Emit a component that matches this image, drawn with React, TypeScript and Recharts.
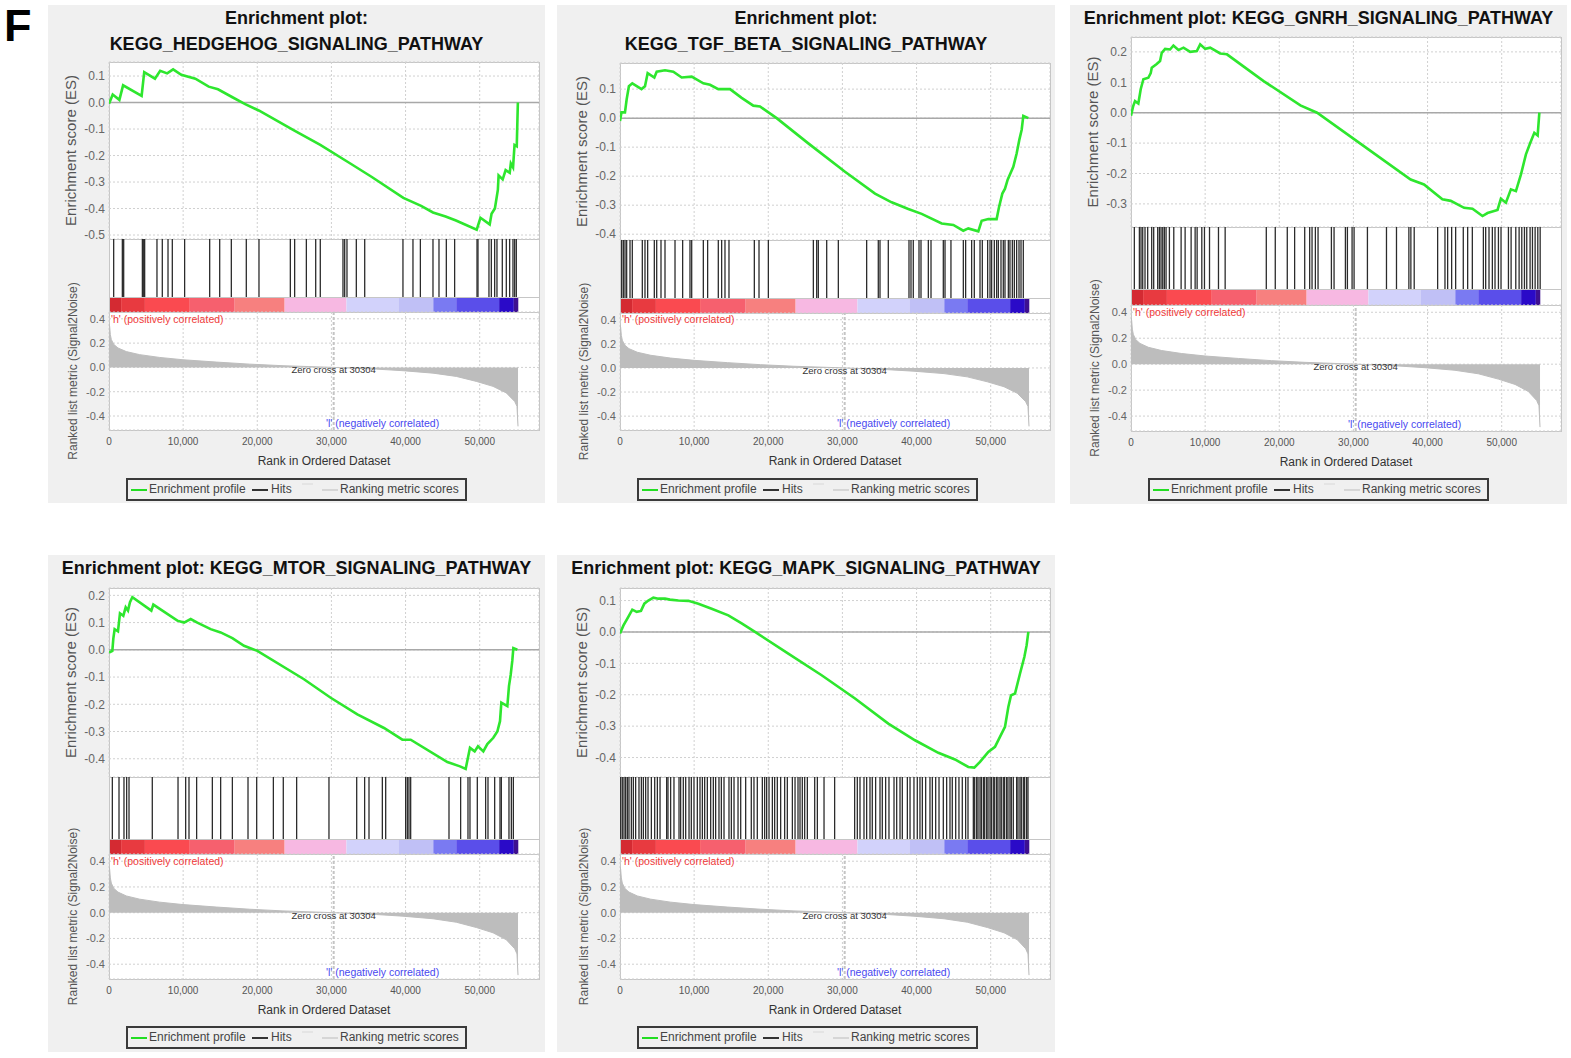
import React from "react";
import {
  LineChart,
  Line,
  AreaChart,
  Area,
  XAxis,
  YAxis,
  CartesianGrid,
  ReferenceLine,
  ReferenceArea,
  ReferenceDot
} from "recharts";

// shared x axis (rank in ordered dataset)
const X_DOMAIN: [number, number] = [0, 58000];
const X_TICKS = [0, 10000, 20000, 30000, 40000, 50000];
const METRIC_DOMAIN: [number, number] = [-0.515, 0.456];
const METRIC_TICKS = [-0.4, -0.2, 0, 0.2, 0.4];
const ZERO_CROSS = 30304;

// ranked list metric (Signal2Noise), same for every panel
const rankedMetric: [number, number][] = [
  [0, 0.36], [90, 0.337], [180, 0.27], [310, 0.23], [630, 0.19], [1210, 0.16],
  [2340, 0.13], [4140, 0.105], [6830, 0.082], [9980, 0.063], [14480, 0.044],
  [18970, 0.027], [23470, 0.014], [30304, 0], [36060, -0.014], [39650, -0.027],
  [43700, -0.047], [46850, -0.074], [49550, -0.115], [51800, -0.156],
  [53590, -0.21], [54720, -0.28], [55030, -0.32], [55170, -0.485]
];

// heat bar under the hits
const colorBands: [number, number, string][] = [
  [0, 1500, "#d42a32"], [1500, 4720, "#e83a40"], [4720, 10790, "#fa4a50"],
  [10790, 16860, "#f6606e"], [16860, 23610, "#f7807f"], [23610, 31970, "#f7b8e2"],
  [31970, 38990, "#d2d2fb"], [38990, 43710, "#c0c0f6"], [43710, 46810, "#7a7af2"],
  [46810, 52610, "#5a4eea"], [52610, 54600, "#2a0ac8"], [54600, 55200, "#3e1090"]
];

const hedgehogES: [number, number][] = [
  [0, -0.005], [500, 0.03], [1400, 0.01], [1900, 0.065], [4400, 0.025], [4750, 0.115],
  [6200, 0.09], [6900, 0.12], [7850, 0.11], [8650, 0.125], [9750, 0.105], [11650, 0.09],
  [13450, 0.06], [14700, 0.05], [16650, 0.02], [18300, -0.005], [20200, -0.03],
  [24950, -0.105], [28500, -0.16], [32550, -0.23], [35400, -0.28], [39700, -0.36],
  [42100, -0.39], [43700, -0.415], [45400, -0.43], [46800, -0.445], [49600, -0.48],
  [50100, -0.435], [51350, -0.46], [51600, -0.42], [52050, -0.4], [52450, -0.33],
  [52550, -0.275], [53100, -0.29], [53500, -0.255], [54050, -0.265], [54200, -0.23],
  [54500, -0.245], [54700, -0.16], [55000, -0.165], [55150, 0.0]
];
const hedgehogHits = [
  630, 1800, 1980, 4500, 4680, 4810, 6470, 7190, 7960, 8540, 10200, 13580, 14930,
  16500, 18520, 20230, 24460, 25040, 26620, 27880, 28500, 31560, 31790, 32100, 33360,
  34490, 39650, 41000, 42000, 43700, 44510, 45500, 46620, 49640, 49770, 51250, 51570,
  52020, 52330, 53050, 53590, 54040, 54490, 54720, 54940
];

const tgfES: [number, number][] = [
  [0, -0.01], [200, 0.02], [670, 0.02], [900, 0.065], [1200, 0.11], [1660, 0.12],
  [2900, 0.1], [3370, 0.11], [3730, 0.155], [4630, 0.14], [4950, 0.16], [6070, 0.165],
  [7190, 0.16], [8320, 0.14], [9670, 0.143], [11240, 0.12], [12140, 0.115],
  [13260, 0.1], [14840, 0.1], [16410, 0.07], [17980, 0.043], [18880, 0.04],
  [21130, 0.0], [25400, -0.087], [30350, -0.185], [34400, -0.26], [36640, -0.29],
  [38890, -0.313], [40690, -0.33], [43390, -0.363], [44960, -0.368], [46300, -0.388],
  [46980, -0.38], [48330, -0.39], [48780, -0.354], [49680, -0.348], [50800, -0.348],
  [51120, -0.307], [51570, -0.26], [51930, -0.243], [52290, -0.212], [53050, -0.168],
  [53500, -0.122], [53860, -0.075], [54180, -0.04], [54400, 0.008], [55080, 0.0]
];
const tgfHits = [
  225, 450, 675, 900, 1350, 1660, 3010, 3370, 3730, 4630, 4950, 5530, 6070, 7420,
  8450, 9440, 9670, 11240, 11820, 13260, 13710, 14160, 14700, 18120, 18750, 20010,
  26080, 26530, 26750, 27880, 29450, 33270, 34840, 35070, 36190, 38980, 39250, 39560,
  40330, 40600, 41590, 41950, 43610, 43840, 44640, 46310, 46620, 47430, 47790, 48560,
  48870, 49590, 49910, 50130, 50490, 50800, 51030, 51390, 51700, 51930, 52380, 52600,
  52920, 53190, 53500, 53820, 54090, 54400
];

const gnrhES: [number, number][] = [
  [0, -0.01], [300, 0.022], [540, 0.038], [990, 0.03], [1310, 0.077], [1670, 0.11],
  [2340, 0.115], [2660, 0.13], [2800, 0.148], [3470, 0.16], [3920, 0.17], [4150, 0.197],
  [4600, 0.21], [5270, 0.208], [5720, 0.221], [6400, 0.206], [7080, 0.214],
  [7980, 0.2], [8880, 0.203], [9330, 0.225], [10000, 0.21], [10680, 0.214],
  [12030, 0.195], [12940, 0.192], [17890, 0.104], [22850, 0.024], [25100, 0.0],
  [31410, -0.11], [37720, -0.22], [39520, -0.236], [42000, -0.285], [43130, -0.29],
  [44930, -0.313], [46060, -0.316], [47410, -0.34], [48090, -0.33], [49440, -0.32],
  [49890, -0.283], [50570, -0.296], [51240, -0.252], [51920, -0.258], [52600, -0.203],
  [53270, -0.137], [53860, -0.099], [54400, -0.066], [54850, -0.075], [55080, 0.0]
];
const gnrhHits = [
  450, 1130, 1350, 1580, 1890, 2250, 2790, 3060, 3600, 3830, 4050, 4280, 4500, 4730,
  5180, 5770, 6760, 7300, 8110, 8650, 8920, 9550, 9910, 10590, 11800, 12700, 18250,
  19460, 21080, 22070, 23430, 24100, 24420, 24870, 25230, 27030, 27390, 28920, 29190,
  29820, 30090, 31890, 34460, 35810, 37480, 37750, 38200, 41360, 42350, 42710, 43250,
  43790, 44820, 45410, 46040, 47530, 47840, 48290, 48740, 49100, 49560, 49910, 50910,
  51270, 51900, 52350, 52710, 53070, 53380, 53830, 54150, 54510, 54870, 55190
];

const mtorES: [number, number][] = [
  [0, -0.01], [450, -0.004], [580, 0.04], [760, 0.076], [1210, 0.068], [1480, 0.134],
  [1930, 0.125], [2250, 0.156], [2560, 0.144], [2830, 0.175], [3150, 0.193],
  [5710, 0.144], [5980, 0.166], [9220, 0.107], [10120, 0.1], [11020, 0.113],
  [11910, 0.1], [13710, 0.076], [15060, 0.064], [16640, 0.043], [18210, 0.015],
  [20010, -0.004], [26300, -0.108], [29900, -0.176], [33500, -0.237], [37090, -0.287],
  [39570, -0.33], [40690, -0.33], [45640, -0.412], [47340, -0.428], [48110, -0.437],
  [48690, -0.36], [49320, -0.373], [49770, -0.354], [50490, -0.373], [51030, -0.346],
  [51840, -0.323], [52380, -0.3], [52740, -0.262], [52920, -0.194], [53730, -0.207],
  [53950, -0.133], [54180, -0.092], [54400, -0.04], [54540, 0.006], [55080, 0.0]
];
const mtorHits = [
  450, 1350, 2020, 2380, 2700, 5840, 9310, 10340, 10790, 11820, 13940, 15060, 16640,
  18750, 19920, 22170, 23510, 25310, 29670, 33410, 34480, 35070, 36870, 37320, 40010,
  40240, 40460, 40690, 45860, 47430, 48420, 48690, 49680, 50800, 51120, 52020, 52740,
  52920, 53950, 54270, 54540
];

const mapkES: [number, number][] = [
  [0, -0.005], [450, 0.02], [1120, 0.048], [1660, 0.071], [2250, 0.064], [2830, 0.067],
  [3280, 0.09], [3820, 0.1], [4500, 0.109], [5170, 0.106], [6070, 0.106], [6740, 0.103],
  [7870, 0.1], [9220, 0.099], [10570, 0.09], [12360, 0.074], [14610, 0.053],
  [16410, 0.027], [18210, 0.0], [22700, -0.069], [27200, -0.138], [31700, -0.212],
  [36190, -0.292], [39790, -0.345], [42940, -0.385], [45180, -0.406], [46980, -0.43],
  [47790, -0.432], [48560, -0.414], [49680, -0.382], [50580, -0.366], [51250, -0.334],
  [51930, -0.302], [52380, -0.239], [52740, -0.202], [53280, -0.196], [53950, -0.133],
  [54540, -0.08], [54850, -0.042], [55080, 0.0]
];
const mapkHits = [
  90, 310, 540, 760, 990, 1210, 1530, 1800, 2110, 2560, 2880, 3150, 3460, 3780, 4230,
  4680, 5040, 5400, 6290, 6470, 6830, 7280, 7960, 8180, 8540, 8860, 9310, 9620, 9980,
  10430, 10790, 11110, 11420, 11780, 12230, 12590, 12900, 13350, 13670, 14030, 14700,
  15020, 15380, 15920, 16280, 16950, 17710, 18070, 18520, 19200, 19510, 19780, 20100,
  20550, 20860, 21220, 21670, 22210, 22570, 23250, 23610, 24010, 24280, 24590, 24910,
  25270, 26260, 26620, 27520, 28950, 31650, 32010, 32370, 32910, 33270, 33720, 34030,
  34480, 35070, 35380, 35830, 36280, 36960, 37320, 37770, 38080, 38760, 39120, 39650,
  40100, 40460, 40780, 41230, 41810, 42130, 42580, 43030, 43610, 44060, 44510, 44820,
  45280, 45720, 46170, 46620, 46940, 47660, 47840, 48110, 48290, 48560, 48740, 49010,
  49190, 49460, 49640, 49910, 50090, 50350, 50540, 50800, 50980, 51250, 51430, 51700,
  51880, 52150, 52330, 52600, 52780, 53050, 53500, 53680, 53950, 54130, 54400, 54580,
  54850, 55030
];

const FONT = "'Liberation Sans', Arial, sans-serif";
const PLOT_W = 430;
const AXIS_W = 60;
const ES_PAD = 8;
const NO_MARGIN = { top: 0, right: 0, bottom: 0, left: 0 };

const vLabel = (text: string, fontSize: number, dx: number) => (props: any) => {
  const vb = props.viewBox || { x: 0, y: 0, height: 0 };
  const x = vb.x + dx;
  const y = vb.y + vb.height / 2;
  return (
    <text x={x} y={y} transform={`rotate(-90 ${x} ${y})`} textAnchor="middle"
      dominantBaseline="central" fontSize={fontSize} fill="#555" fontFamily={FONT}>
      {text}
    </text>
  );
};

const rankLabel = (props: any) => {
  const vb = props.viewBox || { x: 0, y: 0, width: 0 };
  return (
    <text x={vb.x + vb.width / 2} y={vb.y + 31} textAnchor="middle" dominantBaseline="central"
      fontSize={12} fill="#333" fontFamily={FONT}>
      Rank in Ordered Dataset
    </text>
  );
};

type PanelProps = {
  bg: { x: number; y: number; w: number; h: number };
  title: string[];
  plotLeft: number;
  esTop: number;
  esBottom: number;
  hitsBottom: number;
  barBottom: number;
  metricBottom: number;
  legendTop: number;
  esDomain: [number, number];
  esTicks: number[];
  es: [number, number][];
  hits: number[];
};

const frame = (left: number, top: number, h: number): React.CSSProperties => ({
  position: "absolute", left, top, width: PLOT_W + 1, height: h + 1,
  background: "#fff", border: "1px solid #c6c6c6", boxSizing: "border-box"
});

function Panel(p: PanelProps) {
  const esData = p.es.map(([rank, es]) => ({ rank, es }));
  const hitData = p.hits.map((rank) => ({ rank, v: 0.5 }));
  const metricData = rankedMetric.map(([rank, value]) => ({ rank, value }));
  const esH = p.esBottom - p.esTop;
  const hitsH = p.hitsBottom - p.esBottom;
  const barH = p.barBottom - p.hitsBottom;
  const metricH = p.metricBottom - p.barBottom;
  const metricPad = p.barBottom - p.esBottom;
  const tickFmt = (v: number) => v.toFixed(1);

  return (
    <>
      <div style={{ position: "absolute", left: p.bg.x, top: p.bg.y, width: p.bg.w, height: p.bg.h, background: "#f0f0f0" }} />
      {p.title.map((t, i) => (
        <div key={i} style={{
          position: "absolute", left: p.bg.x, top: p.bg.y + i * 26, width: p.bg.w, height: 26,
          lineHeight: "26px", textAlign: "center", fontWeight: "bold", fontSize: 18, color: "#111",
          whiteSpace: "nowrap"
        }}>{t}</div>
      ))}

      <div style={frame(p.plotLeft, p.esTop, esH)} />
      <div style={frame(p.plotLeft, p.esBottom, hitsH)} />
      <div style={frame(p.plotLeft, p.hitsBottom, barH)} />
      <div style={frame(p.plotLeft, p.barBottom, metricH)} />

      {/* running enrichment score */}
      <div style={{ position: "absolute", left: p.plotLeft - AXIS_W, top: p.esTop - ES_PAD }}>
        <LineChart width={PLOT_W + AXIS_W} height={esH + 2 * ES_PAD} data={esData}
          margin={{ top: ES_PAD, right: 0, bottom: ES_PAD, left: 0 }}>
          <CartesianGrid stroke="#d0d0d0" strokeDasharray="2 2" />
          <XAxis type="number" dataKey="rank" domain={X_DOMAIN} ticks={X_TICKS} hide allowDataOverflow />
          <YAxis type="number" domain={p.esDomain} ticks={p.esTicks} width={AXIS_W} allowDataOverflow interval={0}
            tickFormatter={tickFmt} tick={{ fontSize: 12, fill: "#666" }} tickLine={false} axisLine={false}
            tickSize={2} tickMargin={2} label={vLabel("Enrichment score (ES)", 15, 21)} />
          <ReferenceLine y={0} stroke="#a8a8a8" strokeWidth={1.5} />
          <Line type="linear" dataKey="es" stroke="#2ee62e" strokeWidth={2.6} dot={false} isAnimationActive={false} />
        </LineChart>
      </div>

      {/* hits */}
      <div style={{ position: "absolute", left: p.plotLeft, top: p.esBottom }}>
        <LineChart width={PLOT_W} height={hitsH} data={hitData} margin={NO_MARGIN}>
          <XAxis type="number" dataKey="rank" domain={X_DOMAIN} hide allowDataOverflow />
          <YAxis type="number" domain={[0, 1]} hide />
          <Line dataKey="v" stroke="none" dot={false} activeDot={false} isAnimationActive={false} />
          {p.hits.map((h, i) => (
            <ReferenceLine key={i} x={h} stroke="#2c2c2c" strokeWidth={1.3} />
          ))}
        </LineChart>
      </div>

      {/* color bar */}
      <div style={{ position: "absolute", left: p.plotLeft + 1, top: p.hitsBottom + 1 }}>
        <LineChart width={PLOT_W - 1} height={barH - 1} data={hitData} margin={NO_MARGIN}>
          <XAxis type="number" dataKey="rank" domain={X_DOMAIN} hide allowDataOverflow />
          <YAxis type="number" domain={[0, 1]} hide />
          <Line dataKey="v" stroke="none" dot={false} activeDot={false} isAnimationActive={false} />
          {colorBands.map(([x1, x2, c], i) => (
            <ReferenceArea key={i} x1={x1} x2={x2} y1={0} y2={1} fill={c} fillOpacity={1} stroke="none" />
          ))}
        </LineChart>
      </div>

      {/* ranked list metric */}
      <div style={{ position: "absolute", left: p.plotLeft - AXIS_W, top: p.esBottom }}>
        <AreaChart width={PLOT_W + AXIS_W} height={metricPad + metricH + 45} data={metricData}
          margin={{ top: metricPad, right: 0, bottom: 0, left: 0 }}>
          <CartesianGrid stroke="#d0d0d0" strokeDasharray="2 2" />
          <XAxis type="number" dataKey="rank" domain={X_DOMAIN} ticks={X_TICKS} height={45} allowDataOverflow interval={0}
            tickFormatter={(v: number) => v.toLocaleString("en-US")} tick={{ fontSize: 10, fill: "#555" }}
            tickLine={false} axisLine={false} tickSize={2} tickMargin={6} label={rankLabel} />
          <YAxis type="number" domain={METRIC_DOMAIN} ticks={METRIC_TICKS} width={AXIS_W} allowDataOverflow interval={0}
            tickFormatter={tickFmt} tick={{ fontSize: 11, fill: "#666" }} tickLine={false} axisLine={false}
            tickSize={2} tickMargin={2} label={vLabel("Ranked list metric (Signal2Noise)", 12, 24)} />
          <ReferenceLine x={ZERO_CROSS} stroke="#c4c4c4" strokeDasharray="3 2" strokeWidth={2} />
          <Area type="linear" dataKey="value" baseValue={0} fill="#bdbdbd" fillOpacity={1} stroke="#bdbdbd"
            strokeWidth={1} isAnimationActive={false} />
          <ReferenceDot x={0} y={0.4} r={0} fill="none" stroke="none"
            label={{ value: "'h' (positively correlated)", position: "right", offset: 2, fill: "#f03a3a", fontSize: 10.5 }} />
          <ReferenceDot x={ZERO_CROSS} y={-0.02} r={0} fill="none" stroke="none"
            label={{ value: "Zero cross at 30304", position: "center", fill: "#333", fontSize: 9.5 }} />
          <ReferenceDot x={36900} y={-0.46} r={0} fill="none" stroke="none"
            label={{ value: "'l' (negatively correlated)", position: "center", fill: "#4848f0", fontSize: 10.5 }} />
        </AreaChart>
      </div>

      {/* legend */}
      <div style={{
        position: "absolute", left: p.plotLeft + 17, top: p.legendTop, width: 341, height: 23,
        border: "2px solid #3a3a3a", boxSizing: "border-box", fontSize: 12, color: "#444"
      }}>
        <div style={{ position: "absolute", left: 3, top: 9, width: 16, height: 2, background: "#22dd22" }} />
        <div style={{ position: "absolute", left: 21, top: 2, lineHeight: "15px" }}>Enrichment profile</div>
        <div style={{ position: "absolute", left: 124, top: 9, width: 16, height: 1.5, background: "#333" }} />
        <div style={{ position: "absolute", left: 143, top: 2, lineHeight: "15px" }}>Hits</div>
        <div style={{ position: "absolute", left: 174, top: 3, width: 11, height: 2, background: "#e4e4e4" }} />
        <div style={{ position: "absolute", left: 194, top: 9, width: 16, height: 1.5, background: "#d6d6d6" }} />
        <div style={{ position: "absolute", left: 212, top: 2, lineHeight: "15px" }}>Ranking metric scores</div>
      </div>
    </>
  );
}

export default function App() {
  return (
    <div style={{ position: "absolute", left: 0, top: 0, width: 1571, height: 1058, background: "#fff", fontFamily: FONT, overflow: "hidden" }}>
      <div style={{ position: "absolute", left: 4, top: 0, fontSize: 45, fontWeight: "bold", color: "#000" }}>F</div>

      <Panel bg={{ x: 48, y: 5, w: 497, h: 498 }} title={["Enrichment plot:", "KEGG_HEDGEHOG_SIGNALING_PATHWAY"]}
        plotLeft={109} esTop={62} esBottom={239} hitsBottom={297} barBottom={312} metricBottom={430} legendTop={478}
        esDomain={[-0.515, 0.153]} esTicks={[-0.5, -0.4, -0.3, -0.2, -0.1, 0, 0.1]} es={hedgehogES} hits={hedgehogHits} />

      <Panel bg={{ x: 557, y: 5, w: 498, h: 498 }} title={["Enrichment plot:", "KEGG_TGF_BETA_SIGNALING_PATHWAY"]}
        plotLeft={620} esTop={63} esBottom={240} hitsBottom={298} barBottom={313} metricBottom={430} legendTop={478}
        esDomain={[-0.42, 0.19]} esTicks={[-0.4, -0.3, -0.2, -0.1, 0, 0.1]} es={tgfES} hits={tgfHits} />

      <Panel bg={{ x: 1070, y: 5, w: 497, h: 499 }} title={["Enrichment plot: KEGG_GNRH_SIGNALING_PATHWAY"]}
        plotLeft={1131} esTop={37} esBottom={227} hitsBottom={289} barBottom={305} metricBottom={431} legendTop={478}
        esDomain={[-0.376, 0.249]} esTicks={[-0.3, -0.2, -0.1, 0, 0.1, 0.2]} es={gnrhES} hits={gnrhHits} />

      <Panel bg={{ x: 48, y: 555, w: 497, h: 497 }} title={["Enrichment plot: KEGG_MTOR_SIGNALING_PATHWAY"]}
        plotLeft={109} esTop={588} esBottom={777} hitsBottom={839} barBottom={854} metricBottom={979} legendTop={1026}
        esDomain={[-0.467, 0.227]} esTicks={[-0.4, -0.3, -0.2, -0.1, 0, 0.1, 0.2]} es={mtorES} hits={mtorHits} />

      <Panel bg={{ x: 557, y: 555, w: 498, h: 497 }} title={["Enrichment plot: KEGG_MAPK_SIGNALING_PATHWAY"]}
        plotLeft={620} esTop={588} esBottom={777} hitsBottom={839} barBottom={854} metricBottom={979} legendTop={1026}
        esDomain={[-0.462, 0.14]} esTicks={[-0.4, -0.3, -0.2, -0.1, 0, 0.1]} es={mapkES} hits={mapkHits} />
    </div>
  );
}
